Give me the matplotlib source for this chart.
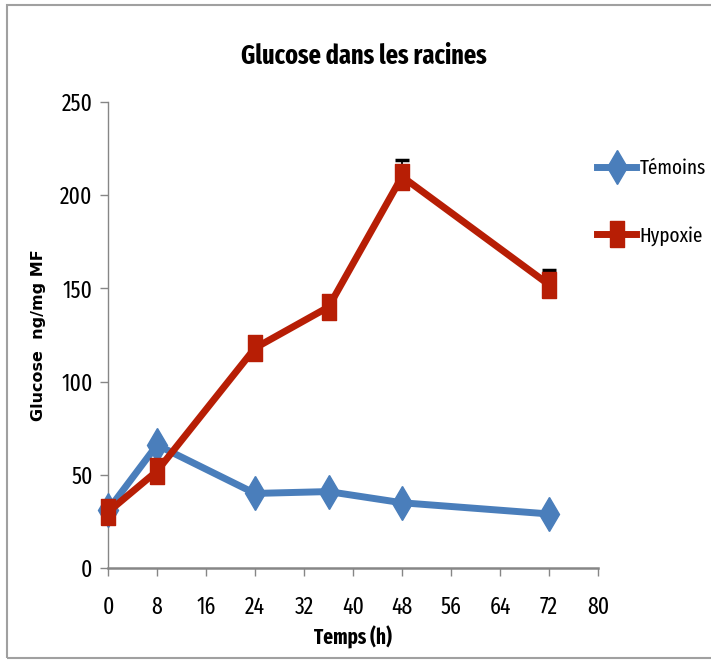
import matplotlib
matplotlib.use("Agg")
import matplotlib.pyplot as plt
from matplotlib.patches import Rectangle

hours = [0, 8, 24, 36, 48, 72]
temoins = [31, 66, 40, 41, 35, 29]
hypoxie = [30, 52, 118, 140, 210, 152]
hypoxie_err = [0, 0, 3, 5, 9, 8]
x_ticks = [0, 8, 16, 24, 32, 40, 48, 56, 64, 72, 80]
y_ticks = [0, 50, 100, 150, 200, 250]

narrow = ["Fira Sans Extra Condensed", "DejaVu Sans"]
plt.rcParams['font.family'] = narrow

fig = plt.figure(figsize=(7.11, 6.61), dpi=100)
fig.patches.append(Rectangle((7/711, 1-658/661), 1.0, (658-5)/661, transform=fig.transFigure,
                             fill=False, edgecolor="#a0a0a0", linewidth=1.5, zorder=0))
ax = fig.add_axes([108/711, 1-568/661, 490/711, 466/661])

blue = "#4A7EBB"
red = "#B71E05"
rect_marker = [(-0.28, -0.5), (0.28, -0.5), (0.28, 0.5), (-0.28, 0.5), (-0.28, -0.5)]

ax.plot(hours, temoins, color=blue, lw=5, marker="d", markersize=17,
        markerfacecolor=blue, markeredgecolor=blue, label="Témoins", zorder=3)
ax.errorbar(hours, hypoxie, yerr=[[0]*len(hypoxie_err), hypoxie_err], fmt="none", ecolor="black",
            elinewidth=1.3, capsize=5, capthick=2.5, zorder=2)
ax.plot(hours, hypoxie, color=red, lw=5, marker=rect_marker, markersize=19,
        markerfacecolor=red, markeredgecolor=red, label="Hypoxie", zorder=4)

ax.set_xlim(0, 80)
ax.set_ylim(0, 250)
ax.set_xticks(x_ticks)
ax.set_yticks(y_ticks)
for s in ["top", "right"]:
    ax.spines[s].set_visible(False)
for s in ["left", "bottom"]:
    ax.spines[s].set_color("#868686")
ax.spines["bottom"].set_linewidth(1.8)
ax.spines["left"].set_linewidth(1.0)
ax.tick_params(axis="both", direction="out", color="#868686", length=6, width=1,
               labelsize=17, labelcolor="black")
ax.tick_params(axis="x", pad=14)
ax.tick_params(axis="y", pad=5)
for l in ax.lines:
    l.set_clip_on(False)

fig.text(364/711, 1-56/661, "Glucose dans les racines", ha="center", va="center",
         fontsize=19, fontweight="bold")
ax.set_xlabel("Temps (h)", fontsize=15, fontweight="bold", labelpad=5)
ax.set_ylabel("Glucose  ng/mg MF", fontsize=11.5, fontweight="bold",
              family=["DejaVu Sans"], labelpad=10)

leg = ax.legend(loc="upper left", bbox_to_anchor=(578/711, 1-140/661),
                bbox_transform=fig.transFigure, frameon=False, fontsize=15,
                handlelength=1.9, labelspacing=2.3, handletextpad=0.15)

fig.savefig("out.png", dpi=100)
